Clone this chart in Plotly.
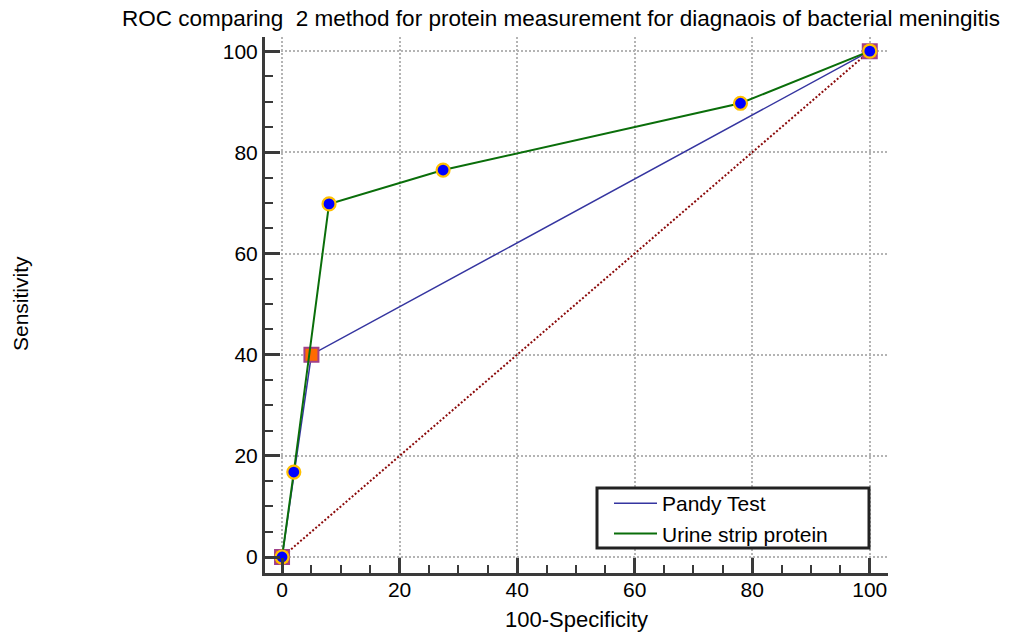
import plotly.graph_objects as go

# Data
pandy_x = [0, 5, 100]
pandy_y = [0, 40, 100]
urine_x = [0, 2, 8, 27.4, 78, 100]
urine_y = [0, 16.8, 69.8, 76.5, 89.7, 100]
diag_x = [0, 100]
diag_y = [0, 100]
tick_vals = [0, 20, 40, 60, 80, 100]

title_text = "ROC comparing  2 method for protein measurement for diagnaois of bacterial meningitis"

FONT = "Liberation Sans, Arial, sans-serif"

fig = go.Figure()

fig.add_trace(go.Scatter(x=diag_x, y=diag_y, mode="lines",
                         line=dict(color="#8b0a0a", width=2, dash="2px,2px"),
                         showlegend=False, hoverinfo="skip"))
fig.add_trace(go.Scatter(x=pandy_x, y=pandy_y, mode="lines", name="Pandy Test",
                         line=dict(color="#3535a0", width=1.5)))
fig.add_trace(go.Scatter(x=pandy_x, y=pandy_y, mode="markers", showlegend=False,
                         marker=dict(symbol="square", size=14, color="#ff6a00",
                                     line=dict(color="#a0408a", width=2))))
fig.add_trace(go.Scatter(x=urine_x, y=urine_y, mode="lines", name="Urine strip protein",
                         line=dict(color="#0a6e0a", width=2)))
fig.add_trace(go.Scatter(x=urine_x, y=urine_y, mode="markers", showlegend=False,
                         marker=dict(symbol="circle", size=13, color="#0000ff",
                                     line=dict(color="#ffc000", width=2.2))))

axis_common = dict(
    showline=True, linecolor="#3a3a3a", linewidth=3,
    ticks="inside", ticklen=15, tickwidth=3, tickcolor="#3a3a3a",
    tickvals=tick_vals,
    showgrid=True, gridcolor="#b4b4b4", gridwidth=1.5, griddash="2px,2px",
    zeroline=False,
    tickfont=dict(family=FONT, size=21, color="black"),
    minor=dict(dtick=5, tick0=0, ticks="inside", ticklen=8, tickwidth=2,
               tickcolor="#3a3a3a", showgrid=False),
)

fig.update_xaxes(range=[-2.9, 103.1], ticklabelstandoff=-4, **axis_common)
fig.update_yaxes(range=[-3.16, 102.8], ticklabelstandoff=0, **axis_common)

fig.update_layout(
    width=1017, height=632,
    margin=dict(l=265, r=129, t=37, b=59),
    paper_bgcolor="white", plot_bgcolor="white",
    font=dict(family=FONT, color="black"),
    title=dict(text=title_text, x=0.5516, xref="container", xanchor="center",
               y=0.972, yref="container", yanchor="middle",
               font=dict(family=FONT, size=22.5, color="black")),
    legend=dict(x=(609 - 265) / 623, y=(573 - 483) / 536, xanchor="left", yanchor="top",
                bgcolor="rgba(0,0,0,0)", borderwidth=0,
                font=dict(family=FONT, size=21, color="black"),
                tracegroupgap=0, itemwidth=43),
    showlegend=True,
    annotations=[
        dict(text="Sensitivity", xref="paper", yref="paper",
             x=(20 - 265) / 623, y=(573 - 304) / 536, textangle=-90,
             showarrow=False, xanchor="center", yanchor="middle",
             font=dict(family=FONT, size=21, color="black")),
        dict(text="100-Specificity", xref="paper", yref="paper",
             x=(576 - 265) / 623, y=(573 - 619) / 536,
             showarrow=False, xanchor="center", yanchor="middle",
             font=dict(family=FONT, size=22, color="black")),
    ],
    shapes=[
        dict(type="rect", xref="paper", yref="paper",
             x0=(597 - 265) / 623, x1=(869 - 265) / 623,
             y0=(573 - 548) / 536, y1=(573 - 488) / 536,
             line=dict(color="#222222", width=3), fillcolor="white", layer="above"),
    ],
)

fig.write_html("out.html")
